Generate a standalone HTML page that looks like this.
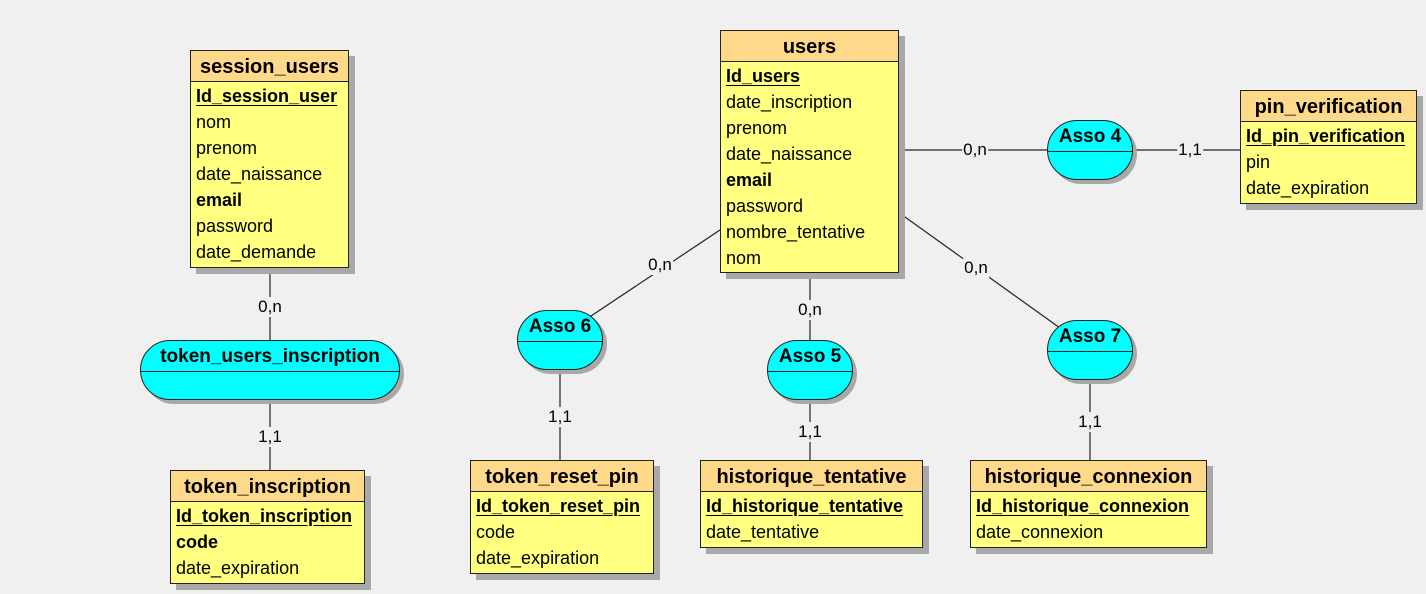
<!DOCTYPE html>
<html><head><meta charset="utf-8"><style>
body{margin:0;width:1426px;height:594px;background:#f0f0f0;position:relative;overflow:hidden;font-family:"Liberation Sans","DejaVu Sans",sans-serif;color:#000}
.e{position:absolute;background:#ffff80;border:1px solid #222;box-shadow:6px 6px 0 #a8a8a8;box-sizing:border-box}
.e .h{background:#ffd98a;border-bottom:1px solid #222;height:30px;line-height:32px;text-align:center;font-weight:bold;font-size:20px}
.e .r{height:26px;line-height:28px;padding-left:5px;font-size:18px;white-space:nowrap}
.e .k{font-weight:bold;text-decoration:underline;text-underline-offset:3px}
.e .b{font-weight:bold}
.a{position:absolute;background:#00ffff;border:1px solid #222;border-radius:30px;box-shadow:4px 4px 0 #a8a8a8;box-sizing:border-box}
.a .t{height:30px;line-height:32px;border-bottom:1px solid #222;text-align:center;font-weight:bold;font-size:19px}
.l{position:absolute;font-size:17px;background:#f0f0f0;transform:translate(-50%,-50%);padding:0 1px}
svg{position:absolute;left:0;top:0}
</style></head><body>
<svg width="1426" height="594"><g stroke="#222" stroke-width="1.2">
<line x1="270" y1="267" x2="270" y2="340"/><line x1="270" y1="400" x2="270" y2="470"/>
<line x1="720" y1="230" x2="588" y2="318"/><line x1="560" y1="370" x2="560" y2="460"/>
<line x1="810" y1="272" x2="810" y2="340"/><line x1="810" y1="400" x2="810" y2="460"/>
<line x1="898" y1="212" x2="1060" y2="328"/><line x1="1090" y1="380" x2="1090" y2="460"/>
<line x1="898" y1="150" x2="1047" y2="150"/><line x1="1133" y1="150" x2="1240" y2="150"/>
</g></svg>
<div class="l" style="left:270px;top:307px">0,n</div>
<div class="l" style="left:270px;top:437px">1,1</div>
<div class="l" style="left:660px;top:265px">0,n</div>
<div class="l" style="left:560px;top:417px">1,1</div>
<div class="l" style="left:810px;top:310px">0,n</div>
<div class="l" style="left:810px;top:432px">1,1</div>
<div class="l" style="left:976px;top:268px">0,n</div>
<div class="l" style="left:1090px;top:422px">1,1</div>
<div class="l" style="left:975px;top:150px">0,n</div>
<div class="l" style="left:1190px;top:150px">1,1</div>

<div class="e" style="left:190px;top:50px;width:159px;height:218px"><div class="h">session_users</div>
<div class="r k">Id_session_user</div><div class="r">nom</div><div class="r">prenom</div><div class="r">date_naissance</div><div class="r b">email</div><div class="r">password</div><div class="r">date_demande</div></div>

<div class="e" style="left:720px;top:30px;width:179px;height:243px"><div class="h">users</div>
<div class="r k">Id_users</div><div class="r">date_inscription</div><div class="r">prenom</div><div class="r">date_naissance</div><div class="r b">email</div><div class="r">password</div><div class="r">nombre_tentative</div><div class="r">nom</div></div>

<div class="e" style="left:1240px;top:90px;width:177px;height:114px"><div class="h">pin_verification</div>
<div class="r k">Id_pin_verification</div><div class="r">pin</div><div class="r">date_expiration</div></div>

<div class="e" style="left:170px;top:470px;width:195px;height:114px"><div class="h">token_inscription</div>
<div class="r k">Id_token_inscription</div><div class="r b">code</div><div class="r">date_expiration</div></div>

<div class="e" style="left:470px;top:460px;width:184px;height:114px"><div class="h">token_reset_pin</div>
<div class="r k">Id_token_reset_pin</div><div class="r">code</div><div class="r">date_expiration</div></div>

<div class="e" style="left:700px;top:460px;width:223px;height:88px"><div class="h">historique_tentative</div>
<div class="r k">Id_historique_tentative</div><div class="r">date_tentative</div></div>

<div class="e" style="left:970px;top:460px;width:237px;height:88px"><div class="h">historique_connexion</div>
<div class="r k">Id_historique_connexion</div><div class="r">date_connexion</div></div>

<div class="a" style="left:140px;top:340px;width:260px;height:60px"><div class="t">token_users_inscription</div></div>
<div class="a" style="left:517px;top:310px;width:86px;height:60px"><div class="t">Asso 6</div></div>
<div class="a" style="left:767px;top:340px;width:86px;height:60px"><div class="t">Asso 5</div></div>
<div class="a" style="left:1047px;top:320px;width:86px;height:60px"><div class="t">Asso 7</div></div>
<div class="a" style="left:1047px;top:120px;width:86px;height:60px"><div class="t">Asso 4</div></div>
</body></html>
